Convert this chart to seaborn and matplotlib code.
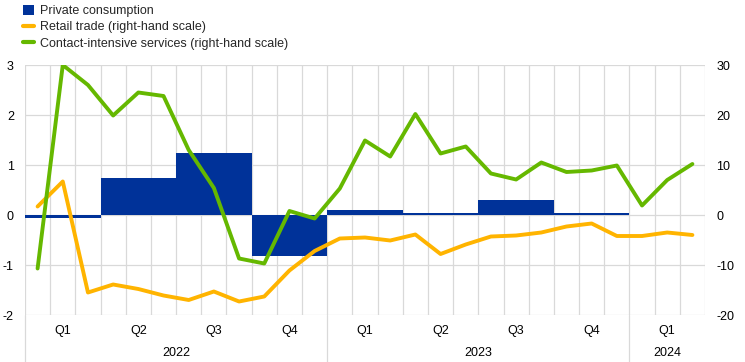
import numpy as np
import pandas as pd
import matplotlib
matplotlib.use("Agg")
import matplotlib.pyplot as plt
import matplotlib.transforms as mtransforms
from matplotlib.patches import Patch
from matplotlib.lines import Line2D
import seaborn as sns

# ---- data ----
months = list(pd.date_range("2022-01-01", periods=27, freq="MS").strftime("%Y-%m"))
quarter_labels = ["Q1", "Q2", "Q3", "Q4", "Q1", "Q2", "Q3", "Q4", "Q1"]
year_labels = ["2022", "2023", "2024"]
year_quarters = [4, 4, 1]
# private consumption, quarter-on-quarter (left scale); Q1 2024 not available
consumption = [-0.05, 0.74, 1.24, -0.81, 0.10, 0.04, 0.30, 0.04]
# monthly series (right-hand scale)
retail = [1.7, 6.7, -15.5, -13.9, -14.8, -16.1, -17.0, -15.3, -17.3, -16.3, -11.1, -7.2,
          -4.7, -4.5, -5.1, -3.9, -7.8, -5.9, -4.3, -4.1, -3.5, -2.3, -1.7, -4.2,
          -4.2, -3.5, -4.0]
contact = [-10.7, 30.0, 26.0, 19.9, 24.5, 23.8, 13.0, 5.4, -8.7, -9.7, 0.8, -0.7,
           5.3, 14.9, 11.7, 20.2, 12.3, 13.7, 8.3, 7.1, 10.5, 8.6, 8.9, 9.9,
           1.9, 7.0, 10.2]

BLUE = "#003299"
ORANGE = "#FFB400"
GREEN = "#65B800"
GRID = "#d9d9d9"

sns.set_theme(style="white")
plt.rcParams["font.family"] = ["Liberation Sans", "DejaVu Sans"]

fig = plt.figure(figsize=(7.45, 3.62), dpi=100)
ax = fig.add_axes([25 / 745, 1 - 315 / 362, 680 / 745, 250 / 362])

n_months = len(months)
month_pos = np.arange(n_months) + 0.5
q_pos = np.arange(len(consumption)) * 3 + 1.5

df_q = pd.DataFrame({"x": q_pos, "value": consumption})
sns.barplot(data=df_q, x="x", y="value", native_scale=True, width=1.0,
            color=BLUE, saturation=1, edgecolor="none", linewidth=0, ax=ax, zorder=2)

ax.set_xlim(0, n_months)
ax.set_ylim(-2, 3)
ax.set_yticks([-2, -1, 0, 1, 2, 3])
ax.set_yticklabels(["-2", "-1", "0", "1", "2", "3"])
ax.set_xticks(np.arange(len(quarter_labels)) * 3 + 1.5)
ax.set_xticklabels(quarter_labels)
ax.set_xticks(np.arange(0, n_months + 1), minor=True)
ax.grid(False)
ax.grid(True, axis="y", which="major", color=GRID, linewidth=0.9, zorder=0)
ax.grid(True, axis="x", which="minor", color=GRID, linewidth=0.9, zorder=0)
ax.set_axisbelow(True)
ax.set_xlabel("")
ax.set_ylabel("")
for s in ax.spines.values():
    s.set_visible(False)
ax.tick_params(axis="both", which="both", length=0)
ax.tick_params(axis="y", labelsize=9, pad=8, colors="black")
ax.tick_params(axis="x", labelsize=9, pad=7.5, colors="black")

ax2 = ax.twinx()
df_m = pd.DataFrame({"x": month_pos, "retail": retail, "contact": contact})
sns.lineplot(data=df_m, x="x", y="retail", color=ORANGE, linewidth=2.8, ax=ax2)
sns.lineplot(data=df_m, x="x", y="contact", color=GREEN, linewidth=2.8, ax=ax2)
ax2.set_ylim(-20, 30)
ax2.set_yticks([-20, -10, 0, 10, 20, 30])
ax2.set_yticklabels(["-20", "-10", "0", "10", "20", "30"])
ax2.set_xlim(0, n_months)
ax2.set_xlabel("")
ax2.set_ylabel("")
ax2.grid(False)
for s in ax2.spines.values():
    s.set_visible(False)
ax2.tick_params(axis="y", length=0, labelsize=9, pad=8, colors="black")

# year labels and separators
trans = mtransforms.blended_transform_factory(ax.transData, ax.transAxes)
start = 0
for yl, nq in zip(year_labels, year_quarters):
    end = start + nq * 3
    ax.text((start + end) / 2, -0.152, yl, transform=trans, ha="center", va="center",
            fontsize=9, color="black")
    ax.plot([start, start], [0, -0.19], transform=trans, color=GRID, linewidth=0.9,
            clip_on=False, zorder=0)
    start = end

handles = [
    Patch(facecolor=BLUE, edgecolor="none"),
    Line2D([0], [0], color=ORANGE, linewidth=3),
    Line2D([0], [0], color=GREEN, linewidth=3),
]
labels = ["Private consumption", "Retail trade (right-hand scale)",
          "Contact-intensive services (right-hand scale)"]
fig.legend(handles, labels, loc="upper left", bbox_to_anchor=(22 / 745, 1 - 4 / 362),
           frameon=False, fontsize=9, handlelength=0.9, handleheight=0.9,
           handletextpad=0.45, labelspacing=0.3, borderaxespad=0, borderpad=0.05)

fig.savefig("out.png", dpi=100)
